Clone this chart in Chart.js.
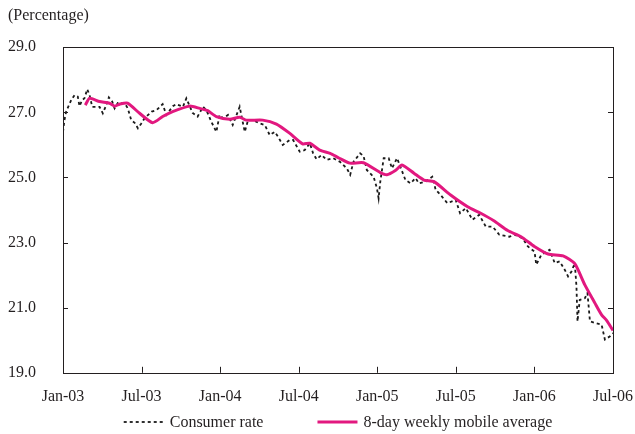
<!DOCTYPE html>
<html>
<head>
<meta charset="utf-8">
<script src="https://cdn.jsdelivr.net/npm/chart.js@4/dist/chart.umd.min.js"></script>
<style>
  html, body { margin: 0; padding: 0; background: #fff; }
  #wrap { width: 635px; height: 434px; position: relative; }
</style>
</head>
<body>
<div id="wrap"><canvas id="chart"></canvas></div>
<script>
/* x values are months counted from Jan-03 */
const tickLabels = ["Jan-03", "Jul-03", "Jan-04", "Jul-04", "Jan-05", "Jul-05", "Jan-06", "Jul-06"];

const crMonths = [0, 0.11, 0.24, 0.63, 0.88, 1.13, 1.26, 1.47, 1.64, 1.85, 2.03, 2.23, 2.54, 2.79, 3.04, 3.25,
  3.5, 3.76, 3.94, 4.19, 4.7, 4.95, 5.21, 5.47, 5.72, 5.98, 6.23, 6.77, 7.15, 7.61, 7.89, 8.39, 8.65, 9.16,
  9.42, 9.9, 10.28, 10.69, 10.95, 11.33, 11.71, 11.96, 12.22, 12.6, 12.96, 13.49, 13.88, 14.13, 14.51, 15.02,
  15.41, 15.79, 16.17, 16.42, 16.78, 17.32, 17.57, 18.08, 18.46, 18.85, 19.1, 19.36, 19.75, 20.13, 20.64,
  21.15, 21.67, 21.93, 22.18, 22.69, 22.95, 23.2, 23.72, 23.97, 24.1, 24.23, 24.49, 24.87, 25.12, 25.51,
  25.76, 26.15, 26.54, 26.92, 27.17, 27.68, 28.2, 28.46, 28.84, 29.35, 29.99, 30.32, 30.76, 31.27, 31.78,
  32.29, 32.81, 33.32, 34.09, 34.47, 35.11, 35.5, 36.01, 36.14, 36.52, 37.16, 37.55, 37.93, 38.32, 38.57,
  38.83, 39.08, 39.21, 39.29, 39.46, 39.85, 40.05, 40.24, 40.62, 41.13, 41.38, 41.77, 42];
const crValues = [26.40, 26.76, 27.02, 27.38, 27.53, 27.48, 27.19, 27.38, 27.43, 27.71, 27.53, 27.17, 27.17,
  27.17, 26.97, 27.17, 27.46, 27.33, 27.12, 27.29, 27.29, 27.12, 26.76, 26.68, 26.51, 26.66, 26.82, 27.02,
  27.07, 27.25, 26.92, 27.19, 27.25, 27.17, 27.43, 26.98, 26.87, 27.17, 27.07, 26.71, 26.40, 26.92, 26.82,
  26.92, 26.61, 27.17, 26.40, 26.76, 26.76, 26.66, 26.61, 26.30, 26.40, 26.25, 26.00, 26.15, 26.15, 25.79,
  25.84, 26.05, 25.74, 25.56, 25.69, 25.54, 25.59, 25.48, 25.28, 25.08, 25.48, 25.74, 25.66, 25.23, 25.02,
  24.67, 24.36, 24.87, 25.59, 25.59, 25.28, 25.59, 25.33, 24.92, 24.82, 24.98, 24.82, 24.87, 25.02, 24.62,
  24.46, 24.21, 24.31, 23.90, 24.06, 23.70, 23.85, 23.49, 23.49, 23.24, 23.18, 23.24, 23.13, 22.88, 22.72,
  22.32, 22.62, 22.78, 22.37, 22.42, 22.16, 21.96, 22.11, 22.37, 21.65, 20.58, 21.24, 21.29, 21.45, 20.58,
  20.53, 20.48, 20.02, 20.12, 20.22];

const maMonths = [1.7, 2.03, 2.79, 3.55, 3.94, 4.32, 4.93, 5.85, 6.84, 7.61, 8.37, 9.67, 10.44, 11.05, 11.71,
  12.73, 13.49, 14.0, 15.25, 16.3, 17.3, 18.3, 18.85, 19.6, 20.4, 21.1, 21.9, 22.95, 24.23, 24.73, 25.38,
  25.88, 26.8, 27.56, 28.33, 29.6, 30.9, 31.9, 32.9, 33.96, 34.98, 36.0, 37.04, 38.19, 39.08, 39.85, 40.62,
  41.13, 41.51, 42];
const maValues = [27.22, 27.43, 27.33, 27.28, 27.19, 27.25, 27.28, 26.97, 26.68, 26.87, 27.02, 27.19, 27.12,
  27.05, 26.87, 26.79, 26.85, 26.76, 26.76, 26.64, 26.36, 26.03, 26.05, 25.84, 25.74, 25.59, 25.44, 25.45,
  25.15, 25.08, 25.21, 25.38, 25.13, 24.92, 24.87, 24.46, 24.10, 23.90, 23.67, 23.37, 23.18, 22.88, 22.65,
  22.59, 22.35, 21.70, 21.14, 20.78, 20.61, 20.30];

const TEXT = "#231f20";
const FONT = { family: "'Liberation Serif', 'Times New Roman', serif", size: 16 };

/* box round the plot, inward tick marks, and the legend under the axis */
const framePlugin = {
  id: "frame",
  afterDraw(chart) {
    const { ctx, chartArea: a, scales } = chart;
    ctx.save();
    ctx.strokeStyle = TEXT;
    ctx.lineWidth = 1;
    ctx.strokeRect(Math.round(a.left) + 0.5, Math.round(a.top) + 0.5,
      Math.round(a.right - a.left), Math.round(a.bottom - a.top));
    ctx.beginPath();
    scales.y.ticks.forEach(t => {
      const py = Math.round(scales.y.getPixelForValue(t.value)) + 0.5;
      ctx.moveTo(a.left, py); ctx.lineTo(a.left + 5, py);
      ctx.moveTo(a.right, py); ctx.lineTo(a.right - 5, py);
    });
    scales.x.ticks.forEach(t => {
      const px = Math.round(scales.x.getPixelForValue(t.value)) + 0.5;
      ctx.moveTo(px, a.bottom); ctx.lineTo(px, a.bottom - 6);
    });
    ctx.stroke();

    // legend
    const items = chart.data.datasets.slice().sort((p, q) => p.legendPos - q.legendPos);
    ctx.font = `${FONT.size}px ${FONT.family}`;
    ctx.textBaseline = "middle";
    ctx.fillStyle = TEXT;
    const box = 40, gap = 6, between = 54;
    const widths = items.map(d => box + gap + ctx.measureText(d.label).width);
    const total = widths.reduce((s, w) => s + w, 0) + between * (items.length - 1);
    let x = (a.left + a.right) / 2 - total / 2;
    const y = 422;
    items.forEach((d, i) => {
      ctx.beginPath();
      ctx.strokeStyle = d.borderColor;
      ctx.lineWidth = d.borderWidth;
      ctx.setLineDash(d.borderDash || []);
      ctx.moveTo(x, y); ctx.lineTo(x + box, y);
      ctx.stroke();
      ctx.setLineDash([]);
      ctx.fillText(d.label, x + box + gap, y + 1);
      x += widths[i] + between;
    });
    ctx.restore();
  }
};

new Chart(document.getElementById("chart"), {
  type: "line",
  data: {
    datasets: [
      {
        label: "8-day weekly mobile average", legendPos: 1, order: 0,
        data: maMonths.map((m, i) => ({ x: m, y: maValues[i] })),
        borderColor: "#e2187f", borderWidth: 3, pointRadius: 0, tension: 0.2
      },
      {
        label: "Consumer rate", legendPos: 0, order: 1,
        data: crMonths.map((m, i) => ({ x: m, y: crValues[i] })),
        borderColor: "#1a1a1a", borderWidth: 1.8, borderDash: [3, 3], pointRadius: 0, tension: 0
      }
    ]
  },
  options: {
    responsive: true, maintainAspectRatio: false, animation: false,
    layout: { padding: { left: 8, right: 22, top: 0, bottom: 14 } },
    plugins: {
      legend: { display: false },
      tooltip: { enabled: false },
      title: {
        display: true, text: "(Percentage)", align: "start", color: TEXT,
        font: { ...FONT, weight: "normal" }, padding: { top: 6, bottom: 22 }
      }
    },
    scales: {
      x: {
        type: "linear", min: 0, max: 42,
        grid: { display: false, drawTicks: false }, border: { display: false },
        ticks: {
          stepSize: 6, autoSkip: false, maxRotation: 0, padding: 14, color: TEXT, font: FONT,
          callback: v => tickLabels[Math.round(v / 6)]
        },
        afterFit: axis => { axis.paddingLeft = 0; axis.paddingRight = 0; }
      },
      y: {
        min: 19, max: 29,
        grid: { display: false, drawTicks: false }, border: { display: false },
        ticks: { stepSize: 2, padding: 27, color: TEXT, font: FONT, callback: v => v.toFixed(1) },
        afterFit: axis => { axis.width = 55; }
      }
    }
  },
  plugins: [framePlugin]
});
</script>
</body>
</html>
